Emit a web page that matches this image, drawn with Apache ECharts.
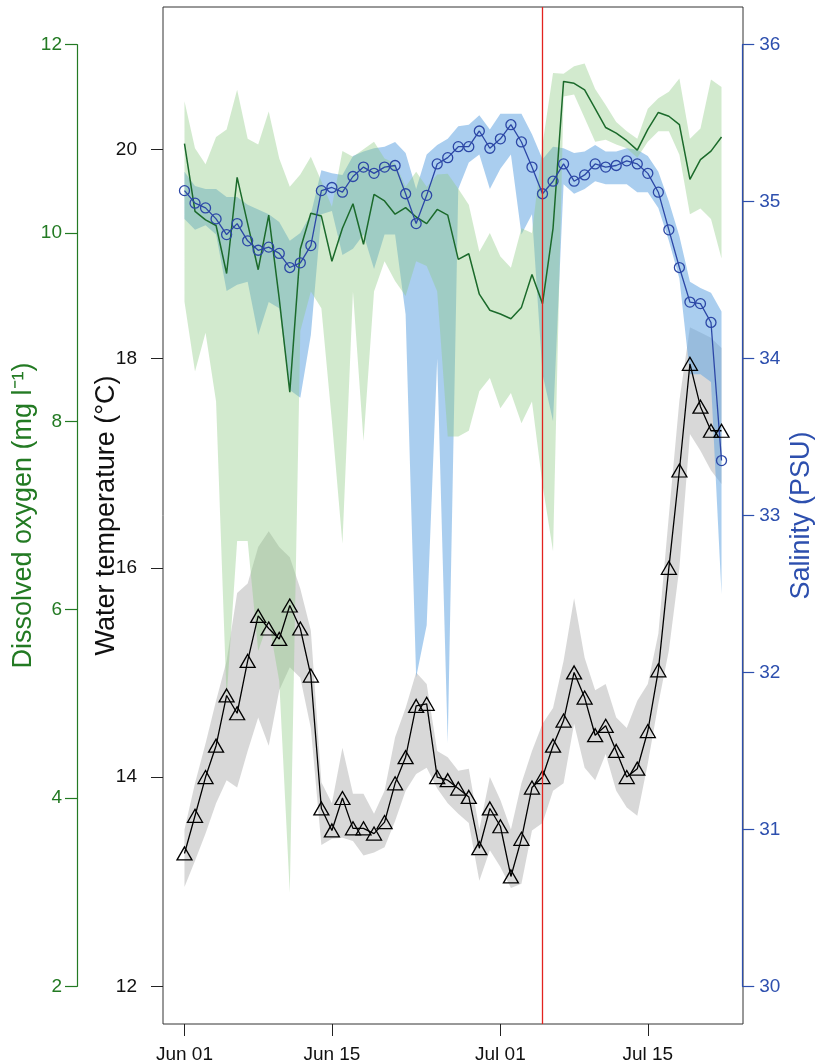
<!DOCTYPE html>
<html>
<head>
<meta charset="utf-8">
<script src="https://cdn.jsdelivr.net/npm/echarts@6/dist/echarts.min.js"></script>
<style>
html,body{margin:0;padding:0;background:#fff;}
#chart{width:816px;height:1064px;}
</style>
</head>
<body>
<div id="chart"></div>
<script>
// ---- data (day 0 = Jun 01) ----
const days = [0,1,2,3,4,5,6,7,8,9,10,11,12,13,14,15,16,17,18,19,20,21,22,23,24,25,26,27,28,29,30,31,32,33,34,35,36,37,38,39,40,41,42,43,44,45,46,47,48,49,50,51];
const xTickDays = [0,14,30,44];
const xTickLabels = ['Jun 01','Jun 15','Jul 01','Jul 15'];
const tempTicks = [12,14,16,18,20];
const eventDay = 34;

const tempMean = [13.27,13.63,14.0,14.30,14.78,14.61,15.11,15.54,15.42,15.32,15.64,15.42,14.97,13.70,13.49,13.80,13.51,13.51,13.46,13.57,13.94,14.19,14.68,14.70,14.0,13.97,13.89,13.81,13.32,13.70,13.53,13.05,13.41,13.90,14.0,14.30,14.54,15.0,14.76,14.40,14.49,14.25,14.0,14.08,14.44,15.02,16.0,16.93,17.95,17.54,17.31,17.31];
const tempLow  = [12.95,13.2,13.46,13.75,13.97,13.9,14.25,14.57,14.3,14.83,15.05,14.95,14.47,13.35,13.41,13.42,13.39,13.25,13.28,13.33,13.58,13.87,14.03,14.09,13.89,13.75,13.65,13.56,13.01,13.3,13.14,12.94,12.98,13.49,13.56,13.87,13.94,14.51,14.09,13.97,14.22,13.87,13.71,13.63,14.13,14.70,15.21,16.0,17.28,17.12,16.93,16.8];
const tempHigh = [13.5,13.94,14.32,14.73,15.11,15.76,15.85,16.2,16.35,16.2,16.1,15.8,15.4,13.95,13.75,14.28,13.84,13.84,13.65,13.87,14.38,14.66,15.0,14.89,14.25,14.19,14.06,14.08,13.5,14.0,13.78,13.5,13.94,14.25,14.51,14.66,15.11,15.71,15.14,14.83,14.89,14.57,14.47,14.73,14.89,15.37,16.5,17.6,18.3,18.25,18.2,18.1];

const oxyMean = [10.95,10.23,10.14,10.08,9.57,10.59,10.10,9.61,10.19,9.30,8.31,9.83,10.21,10.18,9.70,10.05,10.31,9.88,10.41,10.34,10.20,10.27,10.17,10.10,10.25,10.19,9.72,9.78,9.35,9.18,9.14,9.09,9.21,9.56,9.25,10.05,11.61,11.59,11.52,11.32,11.12,11.06,10.98,10.88,11.10,11.28,11.24,11.15,10.57,10.78,10.87,11.02];
const oxyLow  = [9.27,8.53,8.94,8.21,5.06,6.73,6.73,5.56,5.88,5.24,2.99,8.96,9.38,9.20,8.00,6.70,9.38,7.79,9.38,9.70,9.49,9.33,9.70,9.65,9.38,7.84,7.84,7.90,8.32,8.46,8.14,8.30,7.98,8.21,7.33,6.62,11.45,11.47,11.22,10.97,10.99,10.94,10.90,10.80,10.97,11.08,11.08,10.83,10.20,10.26,10.15,9.73];
const oxyHigh = [11.40,10.90,10.73,11.02,11.10,11.52,11.00,10.94,11.29,10.79,10.49,10.62,10.81,10.55,10.28,10.87,10.81,10.89,10.97,10.79,10.74,10.49,10.65,10.49,10.62,10.63,10.47,10.30,9.80,10.00,9.75,9.63,10.05,10.00,10.94,11.70,11.69,11.77,11.80,11.53,11.36,11.18,11.08,11.00,11.32,11.43,11.50,11.64,11.00,11.11,11.63,11.55];

const salMean = [35.07,34.99,34.96,34.89,34.79,34.86,34.75,34.69,34.71,34.67,34.58,34.61,34.72,35.07,35.09,35.06,35.16,35.22,35.18,35.22,35.23,35.05,34.86,35.04,35.24,35.28,35.35,35.35,35.45,35.34,35.40,35.49,35.38,35.22,35.05,35.13,35.24,35.13,35.17,35.24,35.22,35.23,35.26,35.24,35.18,35.06,34.82,34.58,34.36,34.35,34.23,33.35];
const salLow  = [34.89,34.82,34.85,34.79,34.43,34.47,34.49,34.15,34.36,34.32,33.80,33.75,34.15,34.92,34.94,34.66,34.70,34.79,34.57,34.79,34.79,34.28,31.97,32.30,34.00,31.55,35.08,35.25,35.30,35.08,35.21,35.30,34.79,34.92,33.90,33.60,35.11,35.05,35.08,35.13,35.11,35.11,35.11,35.06,35.06,34.96,34.75,34.51,33.90,33.90,33.85,32.50];
const salHigh = [35.19,35.10,35.08,35.08,35.03,35.03,34.98,34.95,34.92,34.87,34.75,34.80,34.92,35.20,35.18,35.17,35.29,35.32,35.34,35.35,35.38,35.31,35.08,35.30,35.36,35.40,35.48,35.49,35.55,35.46,35.56,35.56,35.56,35.43,35.27,35.35,35.34,35.31,35.32,35.36,35.32,35.32,35.34,35.33,35.29,35.19,35.00,34.78,34.49,34.45,34.42,34.30];

// ---- styling ----
const FONT = 'Liberation Sans, Arial, Helvetica, sans-serif';
const GREEN_AX = '#237a23';
const GREEN_LINE = '#1b6a2b';
const BLUE_AX = '#2d4fae';
const BLUE_LINE = '#2c47a6';
const RED = '#e3231f';

const chart = echarts.init(document.getElementById('chart'), null, {renderer: 'canvas'});

function band(name, lo, hi, yIdx, fill) {
  return {
    type: 'custom', name: name, xAxisIndex: 0, yAxisIndex: yIdx, silent: true,
    data: days.map((d, i) => [d, lo[i], hi[i]]),
    encode: {x: 0, y: [1, 2]},
    renderItem: function (params, api) {
      if (params.dataIndex !== 0) return null;
      const top = days.map((d, i) => api.coord([d, hi[i]]));
      const bot = days.map((d, i) => api.coord([d, lo[i]])).reverse();
      return {type: 'polygon', shape: {points: top.concat(bot)}, style: {fill: fill}};
    }
  };
}

const option = {
  animation: false,
  backgroundColor: '#fff',
  textStyle: {fontFamily: FONT},
  grid: [
    {left: 163, top: 7, width: 580, height: 1017, show: true, borderColor: '#333', borderWidth: 1, backgroundColor: 'transparent'},
    {left: 77, top: 44.7, width: 1, height: 941.6},
    {left: 742, top: 44.7, width: 1, height: 941.6}
  ],
  xAxis: [
    {type: 'value', gridIndex: 0, min: -2.04, max: 53.04,
     axisLine: {show: false, onZero: false}, splitLine: {show: false},
     axisTick: {show: true, customValues: xTickDays, length: 12, lineStyle: {color: '#222', width: 1}},
     axisLabel: {customValues: xTickDays, margin: 21, fontSize: 19, color: '#111', fontFamily: FONT,
       formatter: function (v) { const k = xTickDays.indexOf(v); return k >= 0 ? xTickLabels[k] : ''; }}},
    {type: 'value', gridIndex: 1, min: 0, max: 1, show: false},
    {type: 'value', gridIndex: 2, min: 0, max: 1, show: false}
  ],
  yAxis: [
    {type: 'value', gridIndex: 0, min: 11.64, max: 21.36, position: 'left',
     axisLine: {show: false, onZero: false}, splitLine: {show: false},
     axisTick: {show: true, customValues: tempTicks, length: 12, lineStyle: {color: '#222', width: 1}},
     axisLabel: {customValues: tempTicks, margin: 26, fontSize: 19, color: '#111', fontFamily: FONT},
     name: 'Water temperature (°C)', nameLocation: 'middle', nameRotate: 90, nameGap: 43, nameMoveOverlap: false,
     nameTextStyle: {fontSize: 27, color: '#111', fontFamily: FONT}},
    {type: 'value', gridIndex: 0, min: 1.6, max: 12.4, show: false},
    {type: 'value', gridIndex: 0, min: 29.76, max: 36.24, show: false},
    {type: 'value', gridIndex: 1, min: 2, max: 12, interval: 2, position: 'left',
     axisLine: {show: true, onZero: false, lineStyle: {color: GREEN_AX, width: 1.2}}, splitLine: {show: false},
     axisTick: {show: true, length: 12, lineStyle: {color: GREEN_AX, width: 1.2}},
     axisLabel: {margin: 15, fontSize: 19, color: GREEN_AX, fontFamily: FONT},
     name: 'Dissolved oxygen (mg l\u207B\u00B9)', nameLocation: 'middle', nameRotate: 90, nameGap: 40, nameMoveOverlap: false,
     nameTextStyle: {fontSize: 27, color: GREEN_AX, fontFamily: FONT}},
    {type: 'value', gridIndex: 2, min: 30, max: 36, interval: 1, position: 'right',
     axisLine: {show: true, onZero: false, lineStyle: {color: BLUE_AX, width: 1.2}}, splitLine: {show: false},
     axisTick: {show: true, length: 12, lineStyle: {color: BLUE_AX, width: 1.2}},
     axisLabel: {margin: 17, fontSize: 19, color: BLUE_AX, fontFamily: FONT},
     name: 'Salinity (PSU)', nameLocation: 'middle', nameRotate: 90, nameGap: 46, nameMoveOverlap: false,
     nameTextStyle: {fontSize: 27, color: BLUE_AX, fontFamily: FONT}}
  ],
  series: [
    band('Temperature range', tempLow, tempHigh, 0, 'rgba(190,190,190,0.6)'),
    band('Salinity range', salLow, salHigh, 2, 'rgba(100,165,225,0.55)'),
    band('Oxygen range', oxyLow, oxyHigh, 1, 'rgba(143,202,132,0.4)'),
    {type: 'line', name: 'Water temperature', xAxisIndex: 0, yAxisIndex: 0,
     data: days.map((d, i) => [d, tempMean[i]]),
     symbol: 'triangle', symbolSize: [15, 13], showAllSymbol: true,
     lineStyle: {color: '#000', width: 1.3},
     itemStyle: {color: 'rgba(0,0,0,0)', borderColor: '#000', borderWidth: 1.3}, silent: true},
    {type: 'line', name: 'Dissolved oxygen', xAxisIndex: 0, yAxisIndex: 1,
     data: days.map((d, i) => [d, oxyMean[i]]),
     symbol: 'none', lineStyle: {color: GREEN_LINE, width: 1.5}, silent: true},
    {type: 'line', name: 'Salinity', xAxisIndex: 0, yAxisIndex: 2,
     data: days.map((d, i) => [d, salMean[i]]),
     symbol: 'circle', symbolSize: 10, showAllSymbol: true,
     lineStyle: {color: BLUE_LINE, width: 1.3},
     itemStyle: {color: 'rgba(0,0,0,0)', borderColor: BLUE_LINE, borderWidth: 1.3}, silent: true,
     markLine: {silent: true, symbol: ['none', 'none'], label: {show: false},
       lineStyle: {color: RED, width: 1.3, type: 'solid'}, data: [{xAxis: eventDay}]}}
  ]
};
chart.setOption(option);
</script>
</body>
</html>
